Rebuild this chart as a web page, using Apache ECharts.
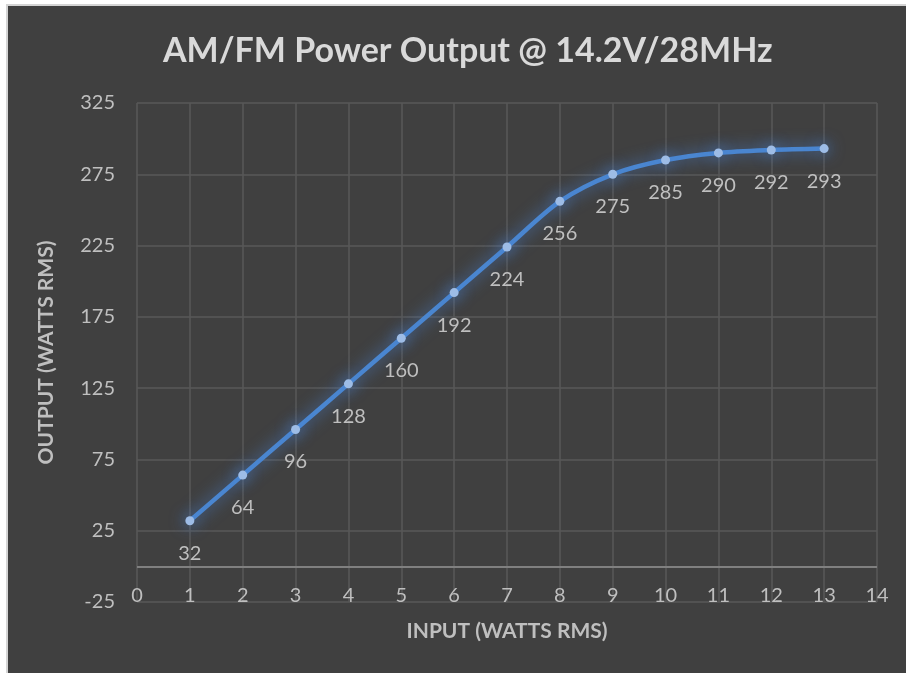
<!DOCTYPE html>
<html>
<head>
<meta charset="utf-8">
<script src="https://cdn.jsdelivr.net/npm/echarts@6/dist/echarts.min.js"></script>
<style>
  html, body { margin: 0; padding: 0; background: #fff; }
  #frame {
    position: absolute; left: 6px; top: 4px; width: 900px; height: 669px;
    background: #404040; border-top: 2px solid #d4d4d4; border-left: 2px solid #d4d4d4;
    box-sizing: border-box;
  }
  #chart { position: absolute; left: 0; top: 0; width: 906px; height: 673px; }
</style>
</head>
<body>
<div id="frame"></div>
<div id="chart"></div>
<script>
// 输入功率 (W) 与输出功率 (W)
const inputWatts = [1, 2, 3, 4, 5, 6, 7, 8, 9, 10, 11, 12, 13];
const outputWatts = [32, 64, 96, 128, 160, 192, 224, 256, 275, 285, 290, 292, 293];
const yTicks = [-25, 25, 75, 125, 175, 225, 275, 325];

const font = 'Lato, "Open Sans", sans-serif';
const chart = echarts.init(document.getElementById('chart'));

chart.setOption({
  backgroundColor: 'transparent',
  textStyle: { fontFamily: font },
  title: {
    text: 'AM/FM Power Output @ 14.2V/28MHz',
    left: 158,
    top: 29,
    textStyle: { color: '#d9d9d9', fontSize: 34, fontWeight: 'bold', fontFamily: font }
  },
  grid: { left: 137, right: 29, top: 103, bottom: 71 },
  xAxis: {
    type: 'value',
    min: 0, max: 14, interval: 1,
    name: 'INPUT (WATTS RMS)',
    nameLocation: 'middle',
    nameGap: 19,
    nameTextStyle: { color: '#bfbfbf', fontSize: 21, fontWeight: 'bold', fontFamily: font },
    axisLine: { show: false },
    axisTick: { show: false },
    axisLabel: { color: '#bfbfbf', fontSize: 20, margin: -16, fontFamily: font },
    splitLine: { show: true, lineStyle: { color: '#595959', width: 1.5 } }
  },
  yAxis: {
    type: 'value',
    min: -25, max: 325, interval: 25,
    name: 'OUTPUT (WATTS RMS)',
    nameLocation: 'middle',
    nameGap: 80,
    nameTextStyle: { color: '#bfbfbf', fontSize: 21, fontWeight: 'bold', fontFamily: font },
    axisLine: { show: false },
    axisTick: { show: false },
    axisLabel: {
      color: '#bfbfbf', fontSize: 20, margin: 22, fontFamily: font,
      formatter: v => (yTicks.indexOf(v) >= 0 ? String(v) : '')
    },
    splitLine: { show: true, lineStyle: { color: ['#595959', 'transparent'], width: 1.5 } }
  },
  series: [{
    type: 'line',
    data: inputWatts.map((x, i) => [x, outputWatts[i]]),
    smooth: 0.3,
    symbol: 'circle',
    symbolSize: 9,
    lineStyle: {
      color: '#4a86d0', width: 4.5,
      shadowColor: 'rgba(74,134,220,0.85)', shadowBlur: 16
    },
    itemStyle: {
      color: '#9dbce6',
      shadowColor: 'rgba(74,134,220,0.95)', shadowBlur: 16
    },
    label: {
      show: true, position: 'bottom', distance: 18,
      color: '#bfbfbf', fontSize: 20, fontFamily: font
    },
    markLine: {
      silent: true,
      symbol: 'none',
      label: { show: false },
      lineStyle: { color: '#808080', type: 'solid', width: 2 },
      data: [{ yAxis: 0 }]
    },
    z: 5
  }]
});
</script>
</body>
</html>
